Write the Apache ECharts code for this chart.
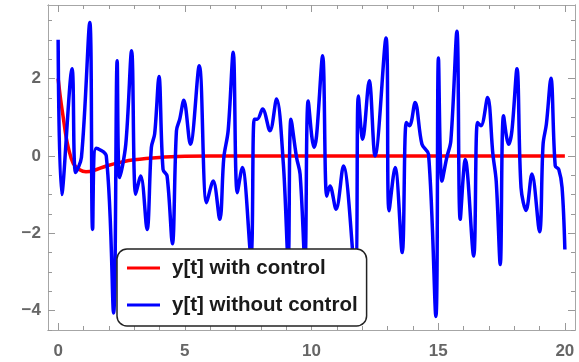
<!DOCTYPE html>
<html>
<head>
<meta charset="utf-8">
<script src="https://cdn.jsdelivr.net/npm/echarts@6/dist/echarts.min.js"></script>
<style>
  html, body { margin: 0; padding: 0; background: #fff; }
  #chart { width: 579px; height: 362px; }
</style>
</head>
<body>
<div id="chart"></div>
<script>
// y[t] with control (red)
var tRed = [0, 0.1, 0.2, 0.3, 0.4, 0.6, 0.85, 1.1, 1.4, 1.9, 2.5, 3.0, 4.0, 5.0, 6.0, 20];
var yRed = [2.0, 1.45, 1.0, 0.55, 0.22, -0.2, -0.36, -0.41, -0.38, -0.26, -0.16, -0.1, -0.04, -0.01, 0, 0];

// y[t] without control (blue)
var tBlue = [0, 0.14, 0.55, 0.69, 0.92, 1.25, 1.36, 1.5, 1.9, 2.19, 2.33, 2.43, 2.67, 2.9,
  3.06, 3.26, 3.51, 3.68, 3.81, 3.98, 4.14, 4.3, 4.51, 4.67, 4.8, 4.96, 5.22, 5.57, 5.86,
  6.12, 6.38, 6.54, 6.71, 6.91, 7.07, 7.27, 7.61, 7.74, 7.86, 8.07, 8.36, 8.62, 8.89, 9.08,
  9.19, 9.41, 9.55, 9.74, 9.87, 10.1, 10.2, 10.44, 10.6, 10.73, 10.97, 11.26, 11.72, 11.85,
  12.02, 12.28, 12.51, 12.94, 13.06, 13.3, 13.58, 13.74, 13.87, 14.09, 14.36, 14.62, 14.91,
  15.01, 15.15, 15.34, 15.5, 15.74, 15.87, 16.07, 16.4, 16.55, 16.69, 16.95, 17.16, 17.29,
  17.45, 17.58, 17.78, 17.91, 18.11, 18.27, 18.47, 18.7, 19.0, 19.14, 19.27, 19.45, 19.62,
  19.76, 19.89, 20.0];
var yBlue = [3.0, -1.0, 2.25, -0.43, -0.04, 3.45, -1.9, 0.2, 0.0, -4.06, 2.46, -0.56, 0.3, 2.72,
  -0.99, -0.52, -1.9, 0.22, 0.57, 2.05, -0.35, -0.52, -2.27, 0.65, 0.95, 1.44, 0.3, 2.33, -1.21,
  -0.65, -1.64, -0.04, 0.65, 2.68, -0.95, -0.3, -2.59, 0.95, 0.95, 1.21, 0.65, 1.47, -0.22, -2.72,
  0.95, -0.04, -0.47, -2.76, 1.42, 0.22, 0.52, 2.59, -1.04, -0.78, -1.38, -0.26, -3.06, 1.55,
  0.43, 1.94, 0.0, 3.05, -1.42, -0.3, -2.5, 0.86, 0.78, 1.38, 0.3, 0.04, -4.15,
  2.53, -0.65, -0.04, 0.39, 3.22, -1.64, -0.09, -2.59, 0.86, 0.78, 1.51, 0.04, -0.65,
  -2.81, 1.04, 0.3, 0.65, 2.25, -0.82, -1.41, -0.47, -1.96, 0.3, 0.82, 2.01, -0.26,
  -0.35, -0.82, -2.42];

var xTicks = [0, 5, 10, 15, 20];
var xMinor = [1, 2, 3, 4, 6, 7, 8, 9, 11, 12, 13, 14, 16, 17, 18, 19];
var yTicks = [-4, -2, 0, 2];
var yMinor = [-4.5, -3.5, -3, -2.5, -1.5, -1, -0.5, 0.5, 1, 1.5, 2.5, 3, 3.5];

var xRange = [-0.4, 20.4];
var yRange = [-4.5, 3.9];

function pairs(ts, ys) {
  return ts.map(function(t, i) { return [t, ys[i]]; });
}

var frame = '#a6a6a6';
var labelStyle = { color: '#666', fontWeight: 'bold', fontSize: 17, fontFamily: 'Liberation Sans, Arial, sans-serif' };

function xAx(grid, pos, ticks, len, labels) {
  return {
    type: 'value', gridIndex: grid, position: pos, min: xRange[0], max: xRange[1],
    axisLine: { show: true, onZero: false, lineStyle: { color: frame, width: 1 } },
    axisTick: { show: true, inside: true, length: len, customValues: ticks, lineStyle: { color: '#999' } },
    axisLabel: labels ? Object.assign({ customValues: xTicks, margin: 13 }, labelStyle) : { show: false },
    splitLine: { show: false }
  };
}
function yAx(grid, pos, ticks, len, labels) {
  return {
    type: 'value', gridIndex: grid, position: pos, min: yRange[0], max: yRange[1],
    axisLine: { show: true, onZero: false, lineStyle: { color: frame, width: 1 } },
    axisTick: { show: true, inside: true, length: len, customValues: ticks, lineStyle: { color: '#999' } },
    axisLabel: labels ? Object.assign({
      customValues: yTicks, margin: 7,
      formatter: function(v) { return v < 0 ? '\u2212' + Math.abs(v) : String(v); }
    }, labelStyle) : { show: false },
    splitLine: { show: false }
  };
}

var gridBox = { left: 48, right: 4, top: 5, bottom: 32, outerBoundsMode: 'none' };

var chart = echarts.init(document.getElementById('chart'), null, { renderer: 'canvas' });
chart.setOption({
  animation: false,
  backgroundColor: '#fff',
  grid: [Object.assign({}, gridBox), Object.assign({}, gridBox)],
  xAxis: [
    xAx(0, 'bottom', xTicks, 7, true),
    xAx(0, 'top', xTicks, 7, false),
    xAx(1, 'bottom', xMinor, 4, false),
    xAx(1, 'top', xMinor, 4, false)
  ],
  yAxis: [
    yAx(0, 'left', yTicks, 7, true),
    yAx(0, 'right', yTicks, 7, false),
    yAx(1, 'left', yMinor, 4, false),
    yAx(1, 'right', yMinor, 4, false)
  ],
  legend: {
    orient: 'vertical',
    left: 117, top: 249,
    padding: [8, 9, 10, 10],
    backgroundColor: '#fff',
    borderColor: '#222',
    borderWidth: 1.5,
    borderRadius: 10,
    icon: 'rect',
    itemWidth: 33,
    itemHeight: 3,
    itemGap: 15,
    textStyle: {
      color: '#1a1a1a', fontWeight: 'bold', fontSize: 20.5, lineHeight: 22,
      fontFamily: 'Liberation Sans, Arial, sans-serif', padding: [0, 0, 0, 7]
    },
    data: ['y[t] with control', 'y[t] without control']
  },
  series: [
    {
      name: 'y[t] with control', type: 'line', xAxisIndex: 0, yAxisIndex: 0,
      data: pairs(tRed, yRed), smooth: 0.4, symbol: 'none',
      lineStyle: { color: '#ff0000', width: 3.5 }, itemStyle: { color: '#ff0000' }
    },
    {
      name: 'y[t] without control', type: 'line', xAxisIndex: 0, yAxisIndex: 0,
      data: pairs(tBlue, yBlue), smooth: 0.35, symbol: 'none',
      lineStyle: { color: '#0000ff', width: 3.5 }, itemStyle: { color: '#0000ff' }
    }
  ]
});
</script>
</body>
</html>
